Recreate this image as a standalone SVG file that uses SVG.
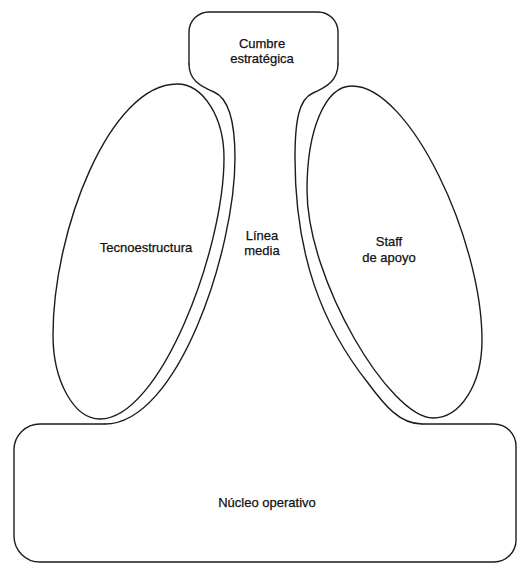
<svg xmlns="http://www.w3.org/2000/svg" width="517" height="564" viewBox="0 0 517 564">
<style>
.ln{fill:none;stroke:#1c1c1c;stroke-width:1.4;stroke-linecap:round;stroke-linejoin:round}
.tx{font-family:"Liberation Sans",Arial,sans-serif;font-size:13px;fill:#111;stroke:#111;stroke-width:0.25;text-anchor:middle}
</style>
<rect width="517" height="564" fill="#fff"/>
<g id="cumbre">
<path class="ln" d="M189,64 V32 A20,20 0 0 1 209,12 H318 A20,20 0 0 1 338,32 V64"/>
<text class="tx" x="262" y="48">Cumbre</text>
<text class="tx" x="262" y="63">estratégica</text>
</g>
<g id="tecnoestructura">
<path class="ln" d="M177,84 C203,84 224,117 224,158 C224,250 160,419 100,419 C74,419 53,381 53,335 C53,230 110,84 177,84 Z"/>
<text class="tx" x="146" y="252">Tecnoestructura</text>
</g>
<g id="staff">
<path class="ln" d="M352,86 C410,86 482,240 482,340 C482,385 460,418 433,418 C390,418 307,280 307,190 C307,130 325,86 352,86 Z"/>
<text class="tx" x="389" y="246">Staff</text>
<text class="tx" x="389" y="262">de apoyo</text>
</g>
<g id="linea-media">
<path class="ln" d="M189,64 C189,80 200,86 214,92 C228,98 235,120 235,158 C235,250 178,424 105,424"/>
<path class="ln" d="M338,64 C338,80 327,87 313,93 C299,99 295,120 295,158 C295,255 322,325 368,383 C385,406 400,424 422,424"/>
<text class="tx" x="262" y="240">Línea</text>
<text class="tx" x="262" y="255">media</text>
</g>
<g id="nucleo">
<path class="ln" d="M105,424 H40 A26,26 0 0 0 14,450 V536 A26,26 0 0 0 40,562 H494 A22,22 0 0 0 516,540 V446 A22,22 0 0 0 494,424 H422"/>
<text class="tx" x="267" y="507">Núcleo operativo</text>
</g>
</svg>
